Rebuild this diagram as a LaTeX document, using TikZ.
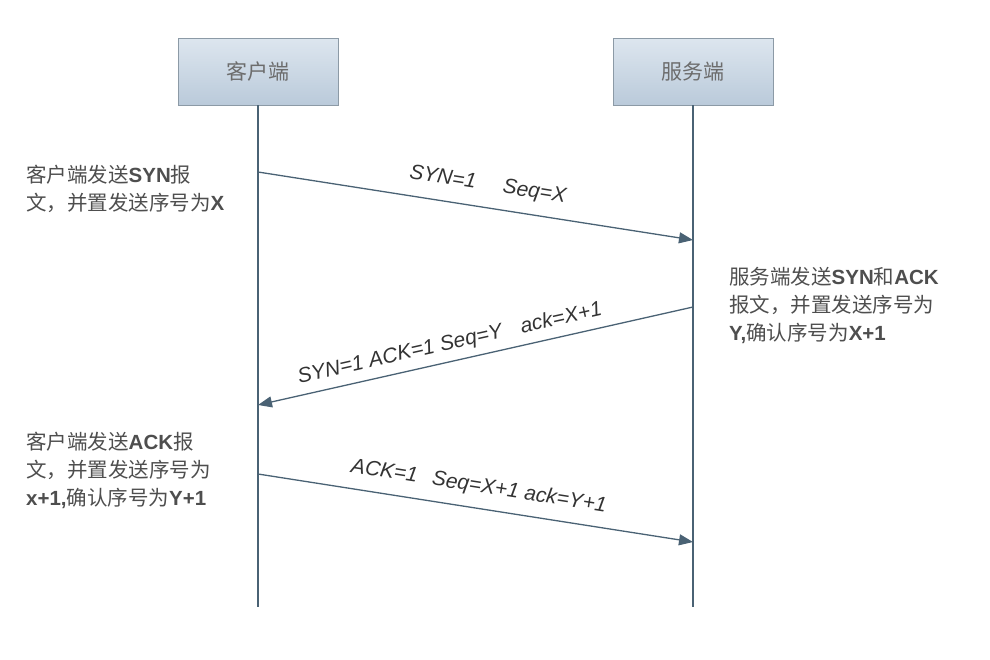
\documentclass[tikz,border=0pt]{standalone}
\usepackage{fontspec}
\setmainfont{Liberation Sans}
\newfontfamily\cjk{Noto Sans CJK SC}
\usetikzlibrary{positioning, arrows.meta, shapes, calc}
\definecolor{lineblue}{HTML}{4A6274}
\definecolor{boxtop}{HTML}{DDE6EF}
\definecolor{boxbot}{HTML}{BACADA}
\definecolor{boxline}{HTML}{8C9AA6}
\definecolor{notegray}{HTML}{4E4E4E}
\newcommand{\zh}[1]{{\cjk #1}}

\begin{document}
\begin{tikzpicture}[x=1pt, y=-1pt,
    party/.style={draw=boxline, thick, top color=boxtop, bottom color=boxbot,
        minimum width=160pt, minimum height=67pt, inner sep=0pt,
        text=gray!85!black, font=\fontsize{21}{24}\selectfont\cjk},
    life/.style={draw=lineblue, line width=1.3pt},
    msg/.style={draw=lineblue, line width=1.3pt, -{Triangle[length=14pt, width=11pt]}},
    tag/.style={sloped, above, inner sep=0pt, text=black!80,
        font=\fontsize{21}{24}\selectfont\itshape},
    note/.style={anchor=west, align=left, inner sep=0pt, text=notegray,
        font=\fontsize{20.5}{28}\selectfont}]
        \useasboundingbox (0,0) rectangle (990,659);

        % Parties
        \node[party] (cli) at (258,71.5) {客户端};
        \node[party] (srv) at (693,71.5) {服务端};

        % Lifelines
        \coordinate (cliend) at (258,607);
        \coordinate (srvend) at (693,607);
        \draw[life] (cli.south) -- (cliend);
        \draw[life] (srv.south) -- (srvend);

        % Message points
        \coordinate (c1) at (258,172);
        \coordinate (s1) at (693,240);
        \coordinate (s2) at (693,307);
        \coordinate (c2) at (258,405);
        \coordinate (c3) at (258,474);
        \coordinate (s3) at (693,542);

        % Handshake
        \draw[msg] (c1) -- node[tag, pos=0.52, above=12pt] {SYN=1\hspace{1.3em}Seq=X} (s1);
        \draw[msg] (s2) -- node[tag, pos=0.55, above=7pt] {SYN=1 ACK=1 Seq=Y\hspace{0.9em}ack=X+1} (c2);
        \draw[msg] (c3) -- node[tag, pos=0.5, above=11pt] {ACK=1\hspace{0.7em}Seq=X+1 ack=Y+1} (s3);

        % Notes
        \node[note] (n1) at (26,189) {\zh{客户端发送}\textbf{SYN}\zh{报}\\\zh{文，并置发送序号为}\textbf{X}};
        \node[note] (n2) at (729,305) {\zh{服务端发送}\textbf{SYN}\zh{和}\textbf{ACK}\\\zh{报文，并置发送序号为}\\\textbf{Y,}\zh{确认序号为}\textbf{X+1}};
        \node[note] (n3) at (26,470) {\zh{客户端发送}\textbf{ACK}\zh{报}\\\zh{文，并置发送序号为}\\\textbf{x+1,}\zh{确认序号为}\textbf{Y+1}};

    \end{tikzpicture}
\end{document}
